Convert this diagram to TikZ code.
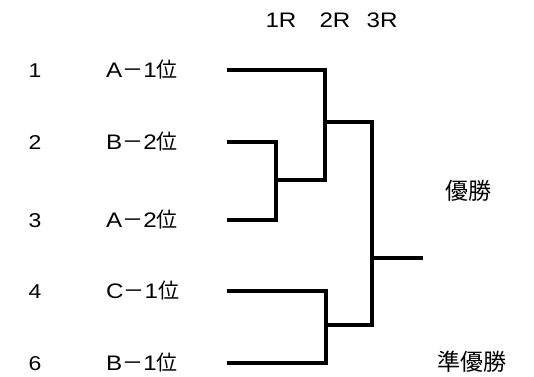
\documentclass[tikz,border=0pt]{standalone}
\usepackage{fontspec}
\setmainfont[FakeStretch=1.15]{Liberation Sans}
\newfontfamily\jpfont{Noto Sans CJK JP}
\newcommand\jp[1]{{\jpfont #1}}
\begin{document}
\begin{tikzpicture}[x=1pt,y=-1pt,
  txt/.style={inner sep=0pt,font=\fontsize{20}{20}\selectfont},
  hdr/.style={inner sep=0pt,font=\fontsize{21}{21}\selectfont},
  res/.style={inner sep=0pt,font=\fontsize{23}{23}\selectfont\jpfont},
  lbl/.style={inner sep=0pt,anchor=west,font=\fontsize{21}{21}\selectfont},
  brk/.style={line width=4pt,line join=miter,line cap=butt}]
\useasboundingbox (0,0) rectangle (534,376);
% round headers
\node[hdr] (h1) at (281,20) {1R};
\node[hdr] (h2) at (335,20) {2R};
\node[hdr] (h3) at (382,20) {3R};
% seeds
\node[txt] (s1) at (35,71) {1};
\node[txt] (s2) at (35,143) {2};
\node[txt] (s3) at (35,221) {3};
\node[txt] (s4) at (35,292) {4};
\node[txt] (s6) at (35,364) {6};
% teams
\node[lbl] (t1) at (106,70) {A\jp{－}1\jp{位}};
\node[lbl] (t2) at (106,142) {B\jp{－}2\jp{位}};
\node[lbl] (t3) at (106,220) {A\jp{－}2\jp{位}};
\node[lbl] (t4) at (106,291) {C\jp{－}1\jp{位}};
\node[lbl] (t6) at (106,363) {B\jp{－}1\jp{位}};
% results
\node[res] (win) at (468.5,191) {優勝};
\node[res] (run) at (472,362) {準優勝};
% line coordinates
\coordinate (e1) at (227,70);
\coordinate (e2) at (227,142);
\coordinate (e3) at (227,220);
\coordinate (e4) at (227,291);
\coordinate (e6) at (227,363);
\coordinate (m23) at (276,180);
\coordinate (m123) at (325,122);
\coordinate (m46) at (326,325);
\coordinate (fin) at (372,258);
\coordinate (champ) at (423,258);
% brackets
\draw[brk] (e2) -| (m23) |- (e3);
\draw[brk] (e1) -| (325,180) -- (m23);
\draw[brk] (e4) -| (m46) |- (e6);
\draw[brk] (m123) -| (372,325) -- (m46);
\draw[brk] (fin) -- (champ);
\end{tikzpicture}
\end{document}
